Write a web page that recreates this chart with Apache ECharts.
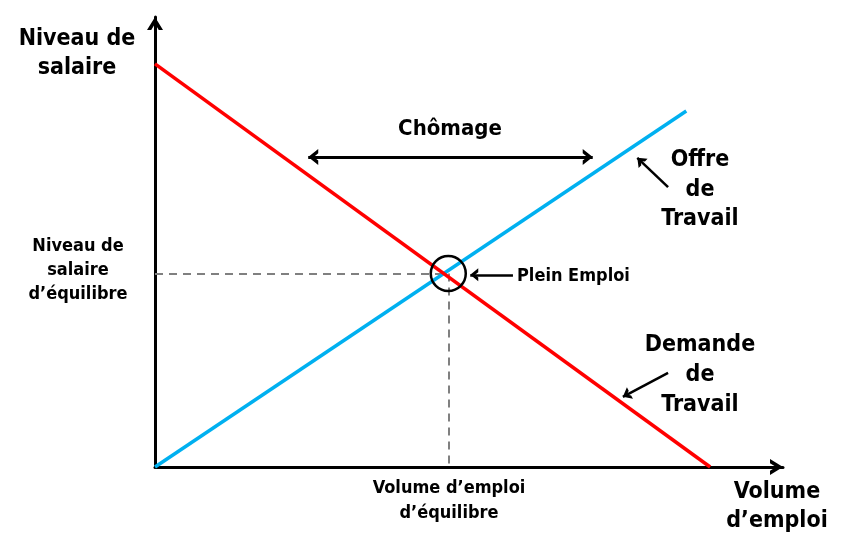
<!DOCTYPE html>
<html><head><meta charset="utf-8">
<script src="https://cdn.jsdelivr.net/npm/echarts@6/dist/echarts.min.js"></script>
<style>html,body{margin:0;padding:0;background:#fff}#c{width:854px;height:549px}</style>
</head><body><div id="c"></div>
<script>
// Data (x: volume d'emploi, y: niveau de salaire; arbitrary units 0-100)
const demandeTravail = [[0, 89.6], [88.4, 0]];
const offreTravail = [[0, 0], [84.6, 79.1]];
const equilibre = [46.7, 43.0];
const chomageArrow = [[24.4, 68.9], [69.7, 68.9]];
const pleinEmploiArrow = [[57.0, 42.7], [50.2, 42.7]];
const offreArrow = [[81.7, 62.2], [76.8, 68.7]];
const demandeArrow = [[81.7, 20.9], [74.5, 15.6]];

const FONT = '"DejaVu Sans Condensed","DejaVu Sans",sans-serif';

// open chevron pointing up, tip at the centre of a square box of side B
function chevron(W, D, t) {
  const h = W / 2, L = Math.sqrt(h * h + D * D);
  const yi = t * L / h;
  const xi = (D - yi) * h / D;
  const B = Math.max(W, 2 * D);
  const b = B / 2;
  const p = 'M0,0 L' + h + ',' + D + ' L' + xi + ',' + D + ' L0,' + yi +
    ' L' + (-xi) + ',' + D + ' L' + (-h) + ',' + D + ' Z' +
    ' M' + (-b) + ',' + (-b) + ' L' + (-b + 0.001) + ',' + (-b) + ' Z' +
    ' M' + b + ',' + b + ' L' + (b - 0.001) + ',' + b + ' Z';
  return {path: 'path://' + p, size: B};
}
const axisArrow = chevron(16, 13, 3.6);
const bigArrow = chevron(16, 10, 3.4);
const smallArrow = chevron(13, 8, 3);

const chart = echarts.init(document.getElementById('c'), null, {renderer: 'canvas'});

function text(t, x, y, size, opts) {
  return {
    type: 'text', x: x, y: y, silent: true,
    style: Object.assign({text: t, fill: '#000', font: 'bold ' + size + 'px ' + FONT,
      textAlign: 'center', textVerticalAlign: 'middle'}, opts || {})
  };
}
const axisCommon = {
  type: 'value', min: 0, max: 100,
  axisLine: {lineStyle: {color: '#000', width: 3}, symbol: ['none', axisArrow.path],
    symbolSize: [axisArrow.size, axisArrow.size]},
  axisTick: {show: false}, axisLabel: {show: false}, splitLine: {show: false}
};

chart.setOption({
  animation: false,
  backgroundColor: '#fff',
  grid: {left: 155, right: 71, top: 17, bottom: 82},
  xAxis: axisCommon,
  yAxis: axisCommon,
  series: [
    {type: 'lines', coordinateSystem: 'cartesian2d', silent: true, z: 1,
     lineStyle: {color: '#808080', width: 2, type: [8, 6], opacity: 1},
     data: [{coords: [[0, equilibre[1]], equilibre]}, {coords: [equilibre, [equilibre[0], 0]]}]},
    {type: 'lines', coordinateSystem: 'cartesian2d', silent: true, z: 3,
     lineStyle: {color: '#00B0F0', width: 3.5, opacity: 1}, data: [{coords: offreTravail}]},
    {type: 'lines', coordinateSystem: 'cartesian2d', silent: true, z: 4,
     lineStyle: {color: '#FF0000', width: 3.5, opacity: 1}, data: [{coords: demandeTravail}]},
    {type: 'scatter', silent: true, z: 5, symbol: 'circle', symbolSize: 35,
     itemStyle: {color: 'rgba(0,0,0,0)', borderColor: '#000', borderWidth: 2.5, opacity: 1}, data: [equilibre]},
    {type: 'lines', coordinateSystem: 'cartesian2d', silent: true, z: 5,
     symbol: [bigArrow.path, bigArrow.path], symbolSize: bigArrow.size,
     lineStyle: {color: '#000', width: 3, opacity: 1}, data: [{coords: chomageArrow}]},
    {type: 'lines', coordinateSystem: 'cartesian2d', silent: true, z: 5,
     symbol: ['none', smallArrow.path], symbolSize: smallArrow.size,
     lineStyle: {color: '#000', width: 2.5, opacity: 1},
     data: [{coords: pleinEmploiArrow}, {coords: offreArrow}, {coords: demandeArrow}]}
  ],
  graphic: [
    text('Niveau de\nsalaire', 77, 54, 23, {lineHeight: 29}),
    text('Niveau de\nsalaire\nd\u2019\u00e9quilibre', 78, 270, 18, {lineHeight: 24, font: '600 18px ' + FONT}),
    text('Ch\u00f4mage', 450, 129, 22),
    text('Plein Emploi', 517, 276, 18, {textAlign: 'left', font: '600 18px ' + FONT}),
    text('Offre\nde\nTravail', 700, 190, 23, {lineHeight: 29.5}),
    text('Demande\nde\nTravail', 700, 375, 23, {lineHeight: 30}),
    text('Volume\nd\u2019emploi', 777, 507, 23, {lineHeight: 29}),
    text('Volume d\u2019emploi\nd\u2019\u00e9quilibre', 449, 501, 18, {lineHeight: 25, font: '600 18px ' + FONT})
  ]
});
</script>
</body></html>
